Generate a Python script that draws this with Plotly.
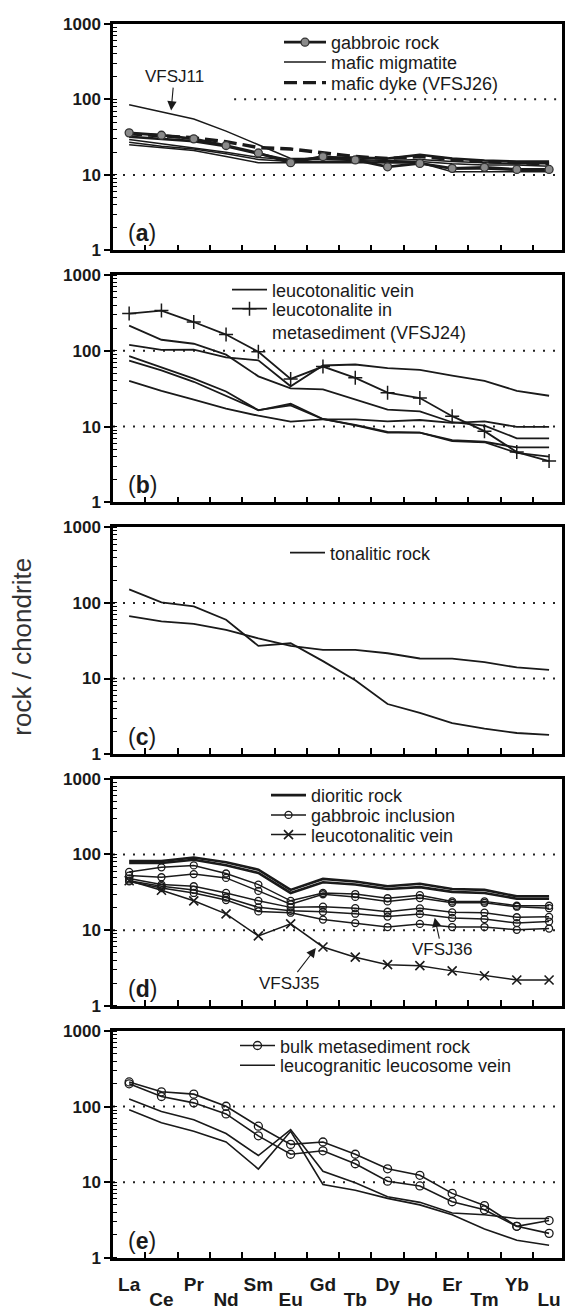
import math
import plotly.graph_objects as go

# ---------------- data ----------------
elements = ["La", "Ce", "Pr", "Nd", "Sm", "Eu", "Gd", "Tb", "Dy", "Ho", "Er", "Tm", "Yb", "Lu"]
y_tick_vals = [1, 10, 100, 1000]
y_tick_text = ["1", "10", "100", "1000"]

# (a)
a_gabbro = [36, 33.5, 30, 24.5, 19.5, 14.5, 17.5, 15.8, 12.8, 14.2, 12.2, 12.6, 11.8, 11.8]
a_migm_VFSJ11 = [85, 68, 55, 38, 25, 16.5, 16.5, 16, 15.5, 16, 15, 14.5, 14, 14]
a_migm_2 = [32, 30, 28, 24, 19, 15.5, 17, 17, 16.5, 18.5, 16.5, 15.5, 15, 15]
a_migm_3 = [29.5, 26, 23, 20, 17, 16, 16, 15.5, 15, 15, 14, 13.5, 13.5, 13]
a_migm_4 = [27, 24, 22, 19, 16, 15, 15, 15, 14.5, 14.5, 12, 12, 11.5, 11.5]
a_migm_5 = [25, 23, 21, 17.5, 14.5, 14.5, 14.5, 14.5, 14.5, 14.5, 11, 11, 11, 11]
a_dyke_VFSJ26 = [35, 33, 31, 27.5, 23, 22, 19.5, 17.5, 16.5, 17.5, 16, 15, 14.5, 14]

# (b)
b_vein_1 = [215, 140, 124, 89, 46, 32, 31, 22.6, 16.7, 15.9, 11.4, 10.3, 7, 7]
b_vein_2 = [120, 103, 104, 82, 75, 34, 64, 66, 59, 56, 47, 40, 29.6, 25.5]
b_vein_3 = [85, 60, 43, 29, 16.4, 20, 12.6, 10.4, 8.3, 8.3, 6.4, 6.2, 4.5, 4.0]
b_vein_4 = [74, 55, 39, 25.5, 16.5, 19, 12.5, 10.5, 8.5, 8.3, 6.6, 6.3, 5.3, 5.3]
b_vein_5 = [40, 29.6, 22.6, 17.2, 13.9, 11.6, 12.4, 12.4, 11.7, 12.2, 11.2, 11.7, 9.9, 9.9]
b_VFSJ24 = [310, 340, 240, 164, 97, 42.5, 62, 44, 28, 23.8, 13.7, 8.7, 4.6, 3.5]

# (c)
c_tonal_1 = [151, 102, 90, 60, 27, 29.3, 17, 9.5, 4.6, 3.5, 2.57, 2.17, 1.9, 1.8]
c_tonal_2 = [67, 57, 53, 44, 34, 27, 24, 24, 21.6, 18.4, 18.3, 16.5, 14, 13]

# (d)
d_dior_1 = [82, 82, 91, 79, 63, 34, 47.5, 44, 38, 41, 35, 34, 28, 28]
d_dior_2 = [77, 77, 85, 72, 57, 31, 43, 40, 35, 37, 32, 31, 26, 26]
d_gab_1 = [58.7, 67.5, 71.6, 56, 40, 24.4, 31, 30, 26.4, 29, 24, 24, 21, 21]
d_gab_2 = [52.6, 50, 55, 49, 33, 22, 29.8, 27.5, 24, 26.5, 23, 23, 20.4, 19.5]
d_gab_3 = [48, 40, 38, 31, 24.4, 20, 20.4, 19.5, 17.5, 19.4, 17.2, 17, 14.8, 15]
d_gab_4 = [45, 38, 34, 27, 20, 18, 17.5, 16.5, 15.1, 16.4, 14.5, 14, 12.4, 13]
d_gab_5 = [44, 36, 31, 25, 17.7, 17, 13.8, 12.4, 11, 12.1, 11, 11, 10.1, 10.5]
d_vein_VFSJ35 = [45, 33.6, 24.4, 16.4, 8.4, 12.1, 6.0, 4.4, 3.5, 3.4, 2.9, 2.5, 2.2, 2.2]

# (e)
e_bulk_1 = [212, 157, 146, 101, 55, 31.6, 34, 23.4, 15, 12.3, 7.1, 4.9, 2.6, 3.1]
e_bulk_2 = [200, 136, 112, 80, 41, 23.4, 26, 17.5, 10.3, 8.9, 5.5, 4.3, 2.6, 2.1]
e_leuco_1 = [126, 86, 67, 44, 22.5, 49.6, 13.9, 9.8, 6.4, 5.4, 3.9, 3.7, 3.3, 3.3]
e_leuco_2 = [90.5, 61, 47, 34, 14.9, 47, 9.3, 7.8, 6.1, 5.0, 3.7, 2.4, 1.7, 1.46]

# ---------------- layout geometry ----------------
W, H = 566, 1315
PL, PR = 113, 562
panels_px = [(15, 245), (270, 500.5), (526, 756), (781, 1011.5), (1037, 1267)]
XR = [-0.5, 13.4]
FONT = "Liberation Sans, Arial, sans-serif"
INK = "#1a1a1a"

xpos = list(range(len(elements)))

fig = go.Figure()


def add(ys, p, name, legend, show, width=1.6, dash="solid", marker=None):
    kw = {}
    mode = "lines"
    if marker is not None:
        kw["marker"] = marker
        mode = "lines+markers"
    fig.add_trace(go.Scatter(
        x=xpos, y=ys, mode=mode, name=name, showlegend=show, legend=legend,
        line=dict(color=INK, width=width, dash=dash),
        xaxis="x" if p == 1 else f"x{p}", yaxis="y" if p == 1 else f"y{p}",
        hoverinfo="skip", **kw))


# (a)
gab_marker = dict(symbol="circle", size=8, color="#8a8a8a", line=dict(color="#333", width=1.3))
add(a_migm_VFSJ11, 1, "mafic migmatite", "legend2", True, width=1.5)
for ys in [a_migm_3, a_migm_4, a_migm_5]:
    add(ys, 1, "mafic migmatite", "legend2", False, width=1.5)
add(a_migm_2, 1, "mafic migmatite", "legend2", False, width=2.6)
add(a_dyke_VFSJ26, 1, "mafic dyke (VFSJ26)", "legend3", True, width=3.4, dash="13px,6px")
add(a_gabbro, 1, "gabbroic rock", "legend", True, width=2.8, marker=gab_marker)

# (b)
for i, ys in enumerate([b_vein_1, b_vein_2, b_vein_3, b_vein_4, b_vein_5]):
    add(ys, 2, "leucotonalitic vein", "legend4", i == 0, width=1.8)
add(b_VFSJ24, 2, "leucotonalite in<br>metasediment (VFSJ24)", "legend5", True, width=1.8,
    marker=dict(symbol="cross-thin", size=10, color=INK, line=dict(color=INK, width=1.5)))

# (c)
for i, ys in enumerate([c_tonal_1, c_tonal_2]):
    add(ys, 3, "tonalitic rock", "legend6", i == 0, width=1.8)

# (d)
for i, ys in enumerate([d_dior_1, d_dior_2]):
    add(ys, 4, "dioritic rock", "legend7", i == 0, width=2.6)
circ = dict(symbol="circle-open", size=7, color=INK, line=dict(color=INK, width=1.3))
for i, ys in enumerate([d_gab_1, d_gab_2, d_gab_3, d_gab_4, d_gab_5]):
    add(ys, 4, "gabbroic inclusion", "legend8", i == 0, width=1.5, marker=circ)
add(d_vein_VFSJ35, 4, "leucotonalitic vein", "legend9", True, width=1.5,
    marker=dict(symbol="x-thin", size=9, color=INK, line=dict(color=INK, width=1.6)))

# (e)
circ_e = dict(symbol="circle-open", size=8, color=INK, line=dict(color=INK, width=1.3))
for i, ys in enumerate([e_bulk_1, e_bulk_2]):
    add(ys, 5, "bulk metasediment rock", "legend10", i == 0, width=1.6, marker=circ_e)
for i, ys in enumerate([e_leuco_1, e_leuco_2]):
    add(ys, 5, "leucogranitic leucosome vein", "legend11", i == 0, width=1.6)

# dummy traces for overlay label axes
fig.add_trace(go.Scatter(x=[None], y=[None], xaxis="x6", yaxis="y5", showlegend=False, hoverinfo="skip"))
fig.add_trace(go.Scatter(x=[None], y=[None], xaxis="x7", yaxis="y5", showlegend=False, hoverinfo="skip"))

# ---------------- axes ----------------
half_ticks = [i + 0.5 for i in range(len(elements) - 1)]
lay = {}
for p, (t, b) in enumerate(panels_px, start=1):
    xs = "" if p == 1 else str(p)
    lay[f"xaxis{xs}"] = dict(
        domain=[PL / W, PR / W], range=XR, anchor=f"y{xs}",
        showline=True, mirror=True, linecolor="black", linewidth=2.5,
        showgrid=False, zeroline=False, tickmode="array", tickvals=half_ticks,
        ticks="inside", ticklen=6, tickwidth=1.5, tickcolor="black", showticklabels=False)
    lay[f"yaxis{xs}"] = dict(
        domain=[(H - b) / H, (H - t) / H], type="log", range=[0, 3], anchor=f"x{xs}",
        showline=True, mirror=True, linecolor="black", linewidth=2.5,
        showgrid=False, zeroline=False, tickmode="array", tickvals=y_tick_vals, ticktext=y_tick_text,
        ticks="outside", ticklen=6, tickwidth=1.5, tickcolor="black",
        tickfont=dict(family=FONT, size=17, color=INK, weight="bold"),
        minor=dict(ticks="inside", ticklen=4, tickwidth=1, tickcolor="black", dtick="D1", showgrid=False))

lbl_font = dict(family=FONT, size=19, color=INK, weight="bold")
lay["xaxis6"] = dict(overlaying="x5", anchor="y5", range=XR, side="bottom", showgrid=False, zeroline=False,
                     tickmode="array", tickvals=xpos[0::2], ticktext=elements[0::2], ticks="",
                     ticklabelstandoff=13, tickfont=lbl_font, showline=False)
lay["xaxis7"] = dict(overlaying="x5", anchor="y5", range=XR, side="bottom", showgrid=False, zeroline=False,
                     tickmode="array", tickvals=xpos[1::2], ticktext=elements[1::2], ticks="",
                     ticklabelstandoff=28, tickfont=lbl_font, showline=False)

# ---------------- legends (one per entry) ----------------
leg_font = dict(family=FONT, size=18, color=INK)
# name: (text left px, row centre px, item width)
legend_pos = {
    "legend": (331, 34, 42), "legend2": (331, 54, 42), "legend3": (331, 75, 42),
    "legend4": (272, 285, 35), "legend5": (272, 316, 35),
    "legend6": (330, 552, 35),
    "legend7": (311, 798, 35), "legend8": (311, 818, 35), "legend9": (311, 838, 35),
    "legend10": (280, 1052, 35), "legend11": (280, 1072, 35),
}
for k, (tx, ty, iw) in legend_pos.items():
    lay[k] = dict(x=(tx - iw - 10) / W, y=(H - ty) / H, xanchor="left", yanchor="middle",
                  xref="paper", yref="paper", bgcolor="rgba(0,0,0,0)", borderwidth=0,
                  font=leg_font, itemwidth=iw, valign="top")

# ---------------- reference lines ----------------
shapes = []
for p in range(1, 6):
    xs = "" if p == 1 else str(p)
    for yv in (10, 100):
        if p == 1 and yv == 100:
            shapes.append(dict(type="line", xref="x", x0=3.25, x1=XR[1], yref="y", y0=yv, y1=yv,
                               line=dict(color="#222", width=2, dash="2px,8px"), layer="below"))
        else:
            shapes.append(dict(type="line", xref=f"x{xs} domain", x0=0, x1=1, yref=f"y{xs}", y0=yv, y1=yv,
                               line=dict(color="#222", width=2, dash="2px,8px"), layer="below"))

# ---------------- annotations ----------------
ann = []
for p, letter in enumerate("abcde", start=1):
    xs = "" if p == 1 else str(p)
    ann.append(dict(text=f"(<b>{letter}</b>)", xref=f"x{xs} domain", yref=f"y{xs} domain",
                    x=0.028, y=0.075, xanchor="left", yanchor="middle", showarrow=False,
                    font=dict(family=FONT, size=23, color=INK)))

note_font = dict(family=FONT, size=17, color=INK)
ann.append(dict(text="VFSJ11", xref="x", yref="y", x=1.3, y=math.log10(71), ax=3, ay=-34,
                showarrow=True, arrowhead=2, arrowsize=1.7, arrowwidth=1.1, arrowcolor=INK,
                standoff=0, font=note_font))
ann.append(dict(text="VFSJ35", xref="x4", yref="y4", x=5.78, y=math.log10(5.8), ax=-27, ay=35,
                showarrow=True, arrowhead=2, arrowsize=1.7, arrowwidth=1.1, arrowcolor=INK,
                standoff=0, font=note_font))
ann.append(dict(text="VFSJ36", xref="x4", yref="y4", x=9.46, y=math.log10(14.6), ax=7, ay=32,
                showarrow=True, arrowhead=2, arrowsize=1.7, arrowwidth=1.1, arrowcolor=INK,
                standoff=0, font=note_font))
ann.append(dict(text="rock / chondrite", xref="paper", yref="paper", x=22 / W, y=(H - 647) / H,
                textangle=-90, showarrow=False, xanchor="center", yanchor="middle",
                font=dict(family=FONT, size=26, color="#333")))

fig.update_layout(width=W, height=H, margin=dict(l=0, r=0, t=0, b=0),
                  paper_bgcolor="white", plot_bgcolor="white",
                  font=dict(family=FONT, color=INK), shapes=shapes, annotations=ann, **lay)

fig.write_html("out.html")
